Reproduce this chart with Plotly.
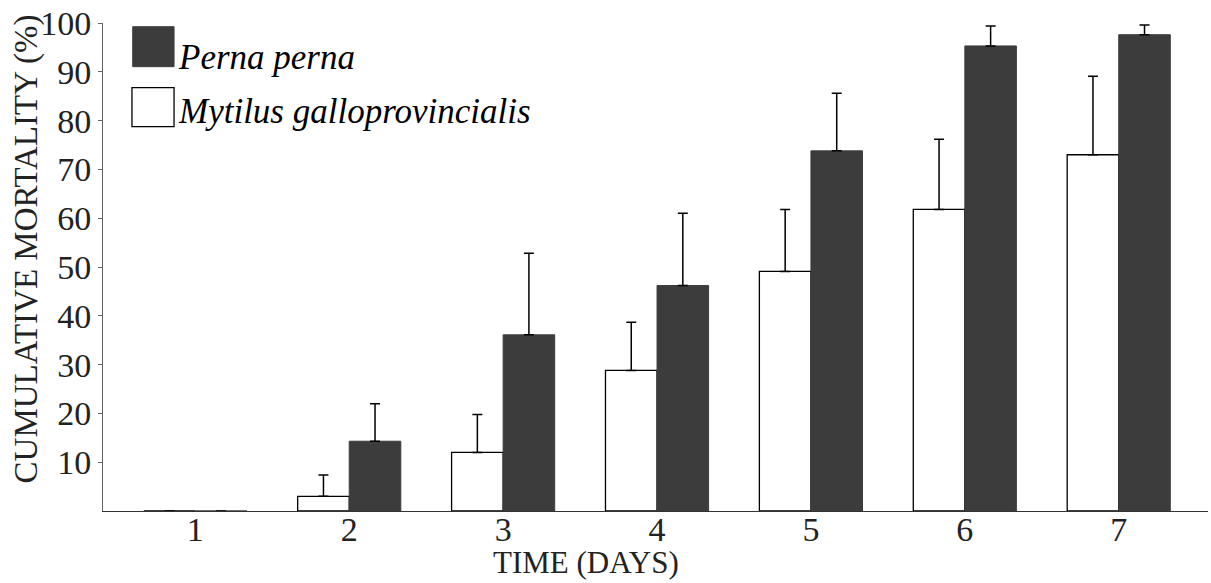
import plotly.graph_objects as go

days = [1, 2, 3, 4, 5, 6, 7]
day_labels = ["1", "2", "3", "4", "5", "6", "7"]
mytilus = [0, 3.0, 12.0, 28.8, 49.1, 61.8, 73.0]
mytilus_err = [0, 4.4, 7.8, 9.9, 12.7, 14.4, 16.1]
perna = [0, 14.3, 36.1, 46.2, 73.8, 95.3, 97.6]
perna_err = [0, 7.7, 16.7, 14.8, 11.8, 4.1, 2.0]
y_ticks = [10, 20, 30, 40, 50, 60, 70, 80, 90, 100]

FONT = "Liberation Serif"
DARK = "#3c3c3c"

fig = go.Figure()
fig.add_trace(go.Bar(
    x=days, y=mytilus, name="Mytilus galloprovincialis",
    marker=dict(color="white", line=dict(color="black", width=1.3)),
    error_y=dict(type="data", array=mytilus_err, arrayminus=[0] * len(days),
                 symmetric=False, color="black", thickness=1.5, width=5),
))
fig.add_trace(go.Bar(
    x=days, y=perna, name="Perna perna",
    marker=dict(color=DARK, line=dict(color=DARK, width=1)),
    error_y=dict(type="data", array=perna_err, arrayminus=[0] * len(days),
                 symmetric=False, color="black", thickness=1.5, width=5),
))

# custom legend swatches (paper coordinates)
fig.add_shape(type="rect", xref="paper", yref="paper",
              x0=0.0269, x1=0.0643, y0=0.9105, y1=0.9924,
              fillcolor=DARK, line=dict(color=DARK, width=1))
fig.add_shape(type="rect", xref="paper", yref="paper",
              x0=0.0262, x1=0.0643, y0=0.7875, y1=0.8674,
              fillcolor="white", line=dict(color="black", width=1.3))
fig.add_annotation(text="<i>Perna perna</i>", xref="paper", yref="paper",
                   x=0.0665, y=0.929, xanchor="left", yanchor="middle",
                   showarrow=False, font=dict(family=FONT, size=35, color="black"))
fig.add_annotation(text="<i>Mytilus galloprovincialis</i>", xref="paper", yref="paper",
                   x=0.0665, y=0.8186, xanchor="left", yanchor="middle",
                   showarrow=False, font=dict(family=FONT, size=35, color="black"))

# axis titles
fig.add_annotation(text="CUMULATIVE MORTALITY (%)", xref="paper", yref="paper",
                   x=-0.0697, y=0.538, xanchor="center", yanchor="middle",
                   textangle=-90, showarrow=False,
                   font=dict(family=FONT, size=33, color="#222"))
fig.add_annotation(text="TIME (DAYS)", xref="paper", yref="paper",
                   x=0.437, y=-0.105, xanchor="center", yanchor="middle",
                   showarrow=False, font=dict(family=FONT, size=31, color="#222"))

fig.update_layout(
    width=1211, height=583,
    margin=dict(l=103, r=3, t=23, b=72),
    paper_bgcolor="white", plot_bgcolor="white",
    barmode="group", bargap=0.33, bargroupgap=0,
    showlegend=False,
    font=dict(family=FONT, color="#222"),
)
fig.update_xaxes(
    range=[0.4, 7.58], tickvals=days, ticktext=day_labels,
    showgrid=False, zeroline=False, showline=True, linecolor="#333", linewidth=1.3,
    ticks="", ticklabelstandoff=-12,
    tickfont=dict(family=FONT, size=34, color="#222"),
)
fig.update_yaxes(
    range=[0, 100], tickvals=y_ticks,
    showgrid=False, zeroline=False, showline=True, linecolor="#666", linewidth=1,
    ticks="outside", ticklen=4, tickcolor="#666",
    tickfont=dict(family=FONT, size=34, color="#222"),
)

# remove the browser's default 8px body margin so the figure fills the window
fig.write_html("out.html", config={"displayModeBar": False},
               post_script="document.body.style.margin='0';")
